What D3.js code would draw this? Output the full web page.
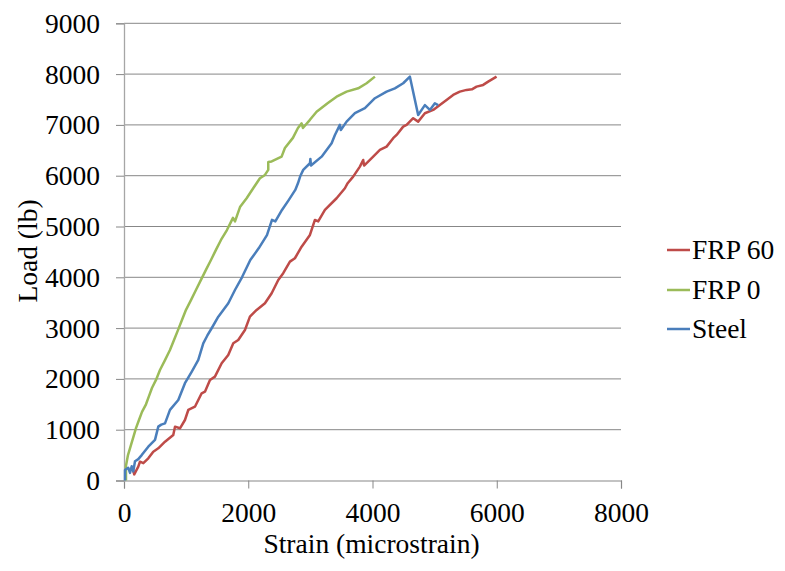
<!DOCTYPE html>
<html><head><meta charset="utf-8">
<script src="https://cdn.jsdelivr.net/npm/d3@7"></script>
<style>body{margin:0;background:#fff}</style>
</head><body><svg id="c" width="785" height="571"></svg>
<script>
const seriesNames = ["FRP 60", "FRP 0", "Steel"];
const seriesColors = ["#BE4B48", "#9BBB59", "#4A7EBB"];
const xTicks = [0, 2000, 4000, 6000, 8000];
const yTicks = [0,1000,2000,3000,4000,5000,6000,7000,8000,9000];

const frp60 = [[140,230],[165,120],[230,272],[257,370],[311,340],[391,437],[471,567],[552,634],[660,764],[793,896],[821,1060],[901,1028],[981,1191],[1035,1388],[1142,1453],[1250,1717],[1303,1749],[1384,1979],[1464,2044],[1572,2308],[1678,2471],[1759,2702],[1839,2767],[1947,2963],[2027,3225],[2135,3357],[2269,3489],[2377,3686],[2483,3948],[2563,4080],[2671,4308],[2751,4375],[2859,4603],[2993,4834],[3073,5129],[3126,5100],[3234,5326],[3422,5556],[3556,5753],[3600,5852],[3689,5982],[3797,6179],[3850,6310],[3865,6200],[4011,6375],[4119,6507],[4227,6572],[4333,6738],[4388,6803],[4494,6966],[4549,7000],[4655,7132],[4735,7065],[4843,7230],[4977,7295],[5084,7394],[5192,7492],[5298,7590],[5406,7655],[5514,7689],[5600,7700],[5675,7754],[5781,7787],[5862,7852],[5997,7950]];

const frp0 = [[32,0],[32,290],[64,500],[113,700],[161,900],[193,1030],[241,1190],[290,1350],[354,1500],[402,1660],[450,1820],[515,1980],[579,2175],[660,2370],[740,2570],[805,2765],[869,2960],[933,3160],[998,3360],[1078,3550],[1158,3750],[1239,3950],[1319,4145],[1400,4340],[1480,4540],[1561,4735],[1657,4930],[1722,5090],[1754,5170],[1787,5100],[1815,5200],[1870,5390],[1974,5556],[2080,5753],[2188,5950],[2269,6015],[2322,6114],[2322,6270],[2377,6280],[2537,6375],[2590,6545],[2719,6745],[2800,6940],[2859,7030],[2880,6940],[2993,7100],[3100,7260],[3282,7430],[3422,7555],[3583,7655],[3770,7720],[3905,7820],[4039,7950]];

const steel = [[16,0],[16,205],[69,250],[97,150],[124,280],[150,180],[177,380],[230,420],[285,500],[391,665],[499,800],[552,1060],[600,1100],[660,1125],[740,1390],[874,1585],[981,1915],[1089,2140],[1196,2373],[1276,2700],[1340,2850],[1411,2997],[1518,3225],[1679,3490],[1786,3750],[1899,4000],[2033,4340],[2168,4570],[2301,4830],[2382,5130],[2436,5100],[2543,5325],[2651,5520],[2757,5720],[2800,5850],[2840,6000],[2885,6115],[2993,6245],[3000,6330],[3010,6200],[3181,6375],[3342,6640],[3395,6800],[3475,7000],[3490,6900],[3583,7065],[3717,7230],[3878,7330],[4039,7525],[4227,7655],[4360,7720],[4494,7820],[4602,7950],[4735,7195],[4843,7390],[4924,7295],[5004,7425],[5057,7390]];

const seriesData = [frp60, frp0, steel];

const svg = d3.select("#c");
const x = d3.scaleLinear().domain([0, 8000]).range([124, 621]);
const y = d3.scaleLinear().domain([0, 9000]).range([480.5, 23.3]);

svg.append("g").selectAll("line").data(yTicks.filter(d => d > 0)).join("line")
  .attr("x1", 124).attr("x2", 621).attr("y1", d => y(d)).attr("y2", d => y(d))
  .attr("stroke", "#878787").attr("stroke-width", 1);

const yAxis = svg.append("g").attr("transform", "translate(124,0)")
  .call(d3.axisLeft(y).tickValues(yTicks).tickSize(8).tickPadding(16).tickFormat(d3.format("d")));
yAxis.select(".domain").attr("stroke", "#a6a6a6").attr("stroke-width", 1.3);
yAxis.selectAll(".tick line").attr("stroke", "#878787");
yAxis.selectAll(".tick text").attr("dy", "0.33em").attr("fill", "#000");

const xAxis = svg.append("g").attr("transform", "translate(0,480.5)")
  .call(d3.axisBottom(x).tickValues(xTicks).tickSize(8).tickPadding(14).tickFormat(d3.format("d")));
xAxis.select(".domain").attr("stroke", "#878787").attr("stroke-width", 1.2);
xAxis.selectAll(".tick line").attr("stroke", "#878787");
xAxis.selectAll(".tick text").attr("fill", "#000");
yAxis.raise();

const line = d3.line().x(d => x(d[0])).y(d => y(d[1]));
svg.append("g").selectAll("path").data(seriesData).join("path")
  .attr("d", line).attr("fill", "none")
  .attr("stroke", (d, i) => seriesColors[i]).attr("stroke-width", 2.5)
  .attr("stroke-linejoin", "round");

svg.append("text").attr("x", 371.5).attr("y", 553).attr("text-anchor", "middle").text("Strain (microstrain)");
svg.append("text").attr("transform", "translate(37,251) rotate(-90)").attr("text-anchor", "middle").text("Load (lb)");

const legY = [250, 290, 329];
const leg = svg.append("g").selectAll("g").data(seriesNames).join("g")
  .attr("transform", (d, i) => `translate(0,${legY[i]})`);
leg.append("line").attr("x1", 667).attr("x2", 690).attr("y1", 0).attr("y2", 0)
  .attr("stroke", (d, i) => seriesColors[i]).attr("stroke-width", 2.5);
leg.append("text").attr("x", 692).attr("y", 0).attr("dy", "0.33em").text(d => d);

svg.selectAll("g").attr("font-family", null).attr("font-size", null);
svg.selectAll("text").style("font-family", "'Liberation Serif'").style("font-size", "27.5px");
</script></body></html>
